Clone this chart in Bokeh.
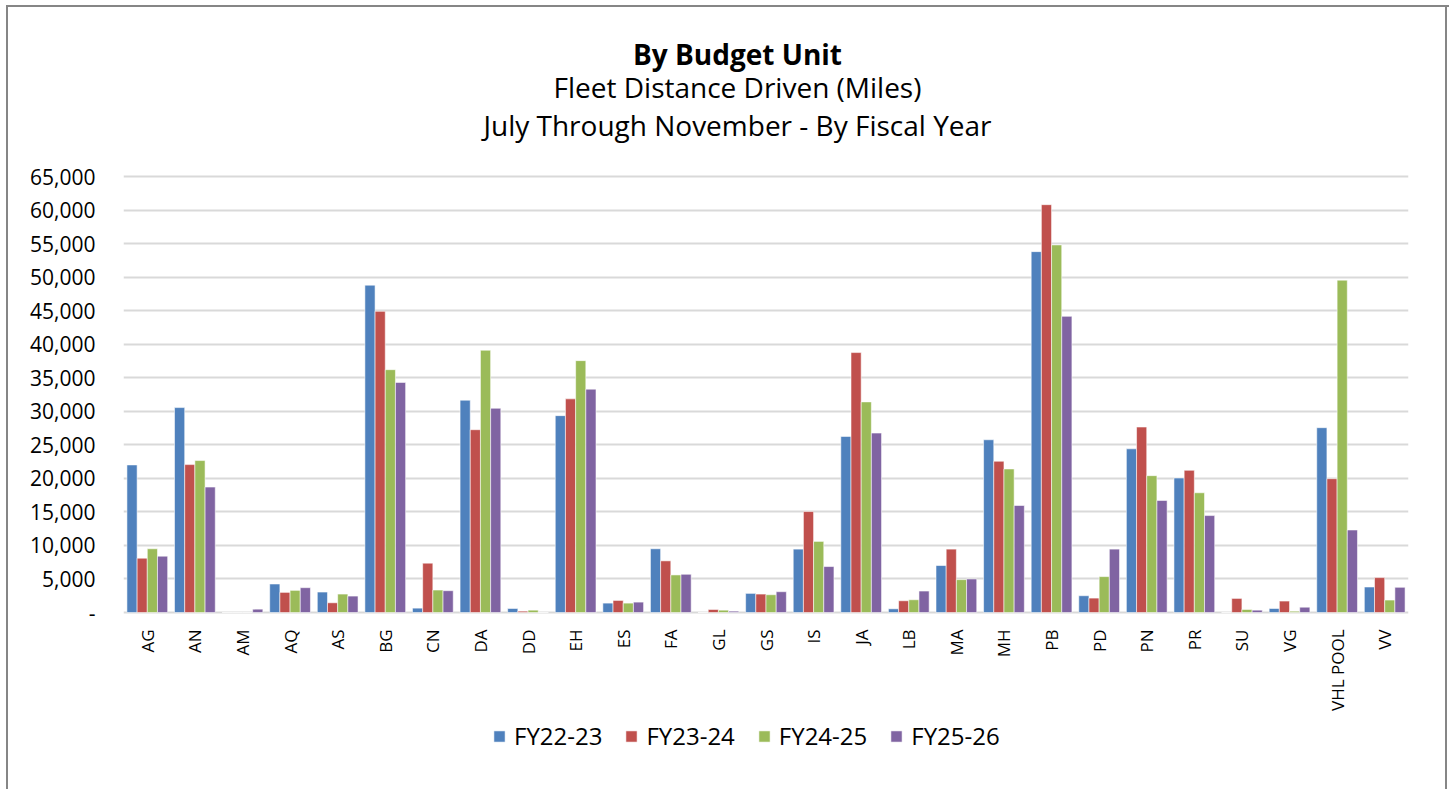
import math
from bokeh.plotting import figure
from bokeh.models import (ColumnDataSource, FactorRange, Range1d, FixedTicker,
                          Label, Legend, LegendItem)
from bokeh.transform import dodge
from bokeh.core.properties import value
from bokeh.embed import file_html
from bokeh.resources import INLINE

# ---------------- data ----------------
units = ["AG", "AN", "AM", "AQ", "AS", "BG", "CN", "DA", "DD", "EH", "ES", "FA", "GL",
         "GS", "IS", "JA", "LB", "MA", "MH", "PB", "PD", "PN", "PR", "SU", "VG",
         "VHL POOL", "VV"]
series_names = ["FY22-23", "FY23-24", "FY24-25", "FY25-26"]
fy22_23 = [22000, 30550, 0, 4250, 3050, 48800, 650, 31650, 600, 29350, 1400, 9500, 0,
           2850, 9450, 26250, 550, 7000, 25750, 53800, 2500, 24400, 20050, 0, 600,
           27550, 3800]
fy23_24 = [8100, 22050, 0, 3000, 1450, 44900, 7350, 27250, 200, 31850, 1800, 7700, 450,
           2750, 15050, 38750, 1750, 9450, 22550, 60800, 2150, 27650, 21200, 2100, 1700,
           19950, 5200]
fy24_25 = [9500, 22650, 0, 3300, 2750, 36200, 3350, 39100, 350, 37550, 1400, 5600, 350,
           2650, 10600, 31400, 1900, 4900, 21400, 54800, 5350, 20400, 17850, 450, 200,
           49550, 1850]
fy25_26 = [8400, 18700, 500, 3700, 2450, 34300, 3250, 30450, 0, 33300, 1550, 5700, 200,
           3100, 6850, 26750, 3200, 5000, 15950, 44150, 9450, 16700, 14450, 350, 800,
           12300, 3750]
y_ticks = [0, 5000, 10000, 15000, 20000, 25000, 30000, 35000, 40000, 45000, 50000,
           55000, 60000, 65000]
y_tick_labels = ["-", "5,000", "10,000", "15,000", "20,000", "25,000", "30,000",
                 "35,000", "40,000", "45,000", "50,000", "55,000", "60,000", "65,000"]
title_lines = ["By Budget Unit", "Fleet Distance Driven (Miles)",
               "July Through November - By Fiscal Year"]

colors = ["#4F81BD", "#C0504D", "#9BBB59", "#8064A2"]
FONT = "Open Sans"

# ---------------- layout geometry (pixels) ----------------
W, H = 1449, 789
FRAME_L, FRAME_R, FRAME_T, FRAME_B = 123, 1408, 8, 789
ZERO_Y, TOP_Y = 612, 176          # pixel rows of the 0 and 65,000 gridlines
K = 65000 / (ZERO_Y - TOP_Y)


def yval(py):
    return (ZERO_Y - py) * K


def xval(px):
    return (px - FRAME_L) / (FRAME_R - FRAME_L) * len(units)


src = ColumnDataSource(dict(unit=units, s0=fy22_23, s1=fy23_24, s2=fy24_25, s3=fy25_26))

p = figure(x_range=FactorRange(*units, range_padding=0),
           y_range=Range1d(yval(FRAME_B), yval(FRAME_T)),
           width=W, height=H, output_backend="svg", toolbar_location=None,
           x_axis_location=None,
           min_border_left=FRAME_L, min_border_right=W - FRAME_R,
           min_border_top=FRAME_T, min_border_bottom=H - FRAME_B)
p.border_fill_color = None
p.background_fill_color = None
p.outline_line_color = None
p.styles = {"box-shadow": ("inset 6px 5px 0 0 white, inset 8px 7px 0 0 #868686, "
                           "inset -2px 0 0 0 white, inset -4px 0 0 0 #868686")}

# grid (horizontal only, at the value ticks)
for g in p.xgrid:
    g.visible = False
p.ygrid.ticker = FixedTicker(ticks=y_ticks)
p.ygrid.grid_line_color = "#d9d9d9"
p.ygrid.grid_line_width = 2

# bars
bw = 0.214
offsets = [-1.5 * bw, -0.5 * bw, 0.5 * bw, 1.5 * bw]
renderers = []
for i in range(4):
    r = p.vbar(x=dodge("unit", offsets[i], range=p.x_range), top="s%d" % i, width=bw,
               source=src, fill_color=colors[i], line_color="white", line_alpha=0.55,
               line_width=1)
    renderers.append(r)

# y axis
p.yaxis.ticker = FixedTicker(ticks=y_ticks)
p.yaxis.major_label_overrides = {t: l for t, l in zip(y_ticks, y_tick_labels)}
p.yaxis.axis_line_color = None
p.yaxis.major_tick_line_color = None
p.yaxis.minor_tick_line_color = None
p.yaxis.major_tick_out = 0
p.yaxis.major_tick_in = 0
p.yaxis.major_label_standoff = 28
p.yaxis.major_label_text_font = FONT
p.yaxis.major_label_text_font_size = "21px"
p.yaxis.major_label_text_color = "black"

# category labels, vertical, just below the zero line
lab_src = ColumnDataSource(dict(unit=units, y=[yval(ZERO_Y + 17)] * len(units)))
p.text(x="unit", y="y", text="unit", source=lab_src, angle=math.pi / 2,
       text_align="right", text_baseline="middle", text_font=value(FONT),
       text_font_size=value("17px"), text_color="black")

# title lines
baselines = [53, 86.5, 124]
for k, (txt, by) in enumerate(zip(title_lines, baselines)):
    p.add_layout(Label(x=xval(737), y=yval(by), text=txt, text_align="center",
                       text_baseline="alphabetic", text_font=FONT,
                       text_font_size="28px",
                       text_font_style="bold" if k == 0 else "normal",
                       text_color="black"))

# legend at the bottom
legend = Legend(items=[LegendItem(label=n, renderers=[r]) for n, r in zip(series_names, renderers)],
                orientation="horizontal", location=(492 - FRAME_L, FRAME_B - 752))
legend.border_line_color = None
legend.background_fill_alpha = 0
legend.padding = 0
legend.margin = 0
legend.spacing = 22
legend.label_standoff = 8
legend.glyph_width = 14
legend.glyph_height = 14
legend.label_text_font = FONT
legend.label_text_font_size = "24px"
legend.label_text_color = "black"
p.add_layout(legend, "center")

open("out.html", "w").write(file_html(p, INLINE))
